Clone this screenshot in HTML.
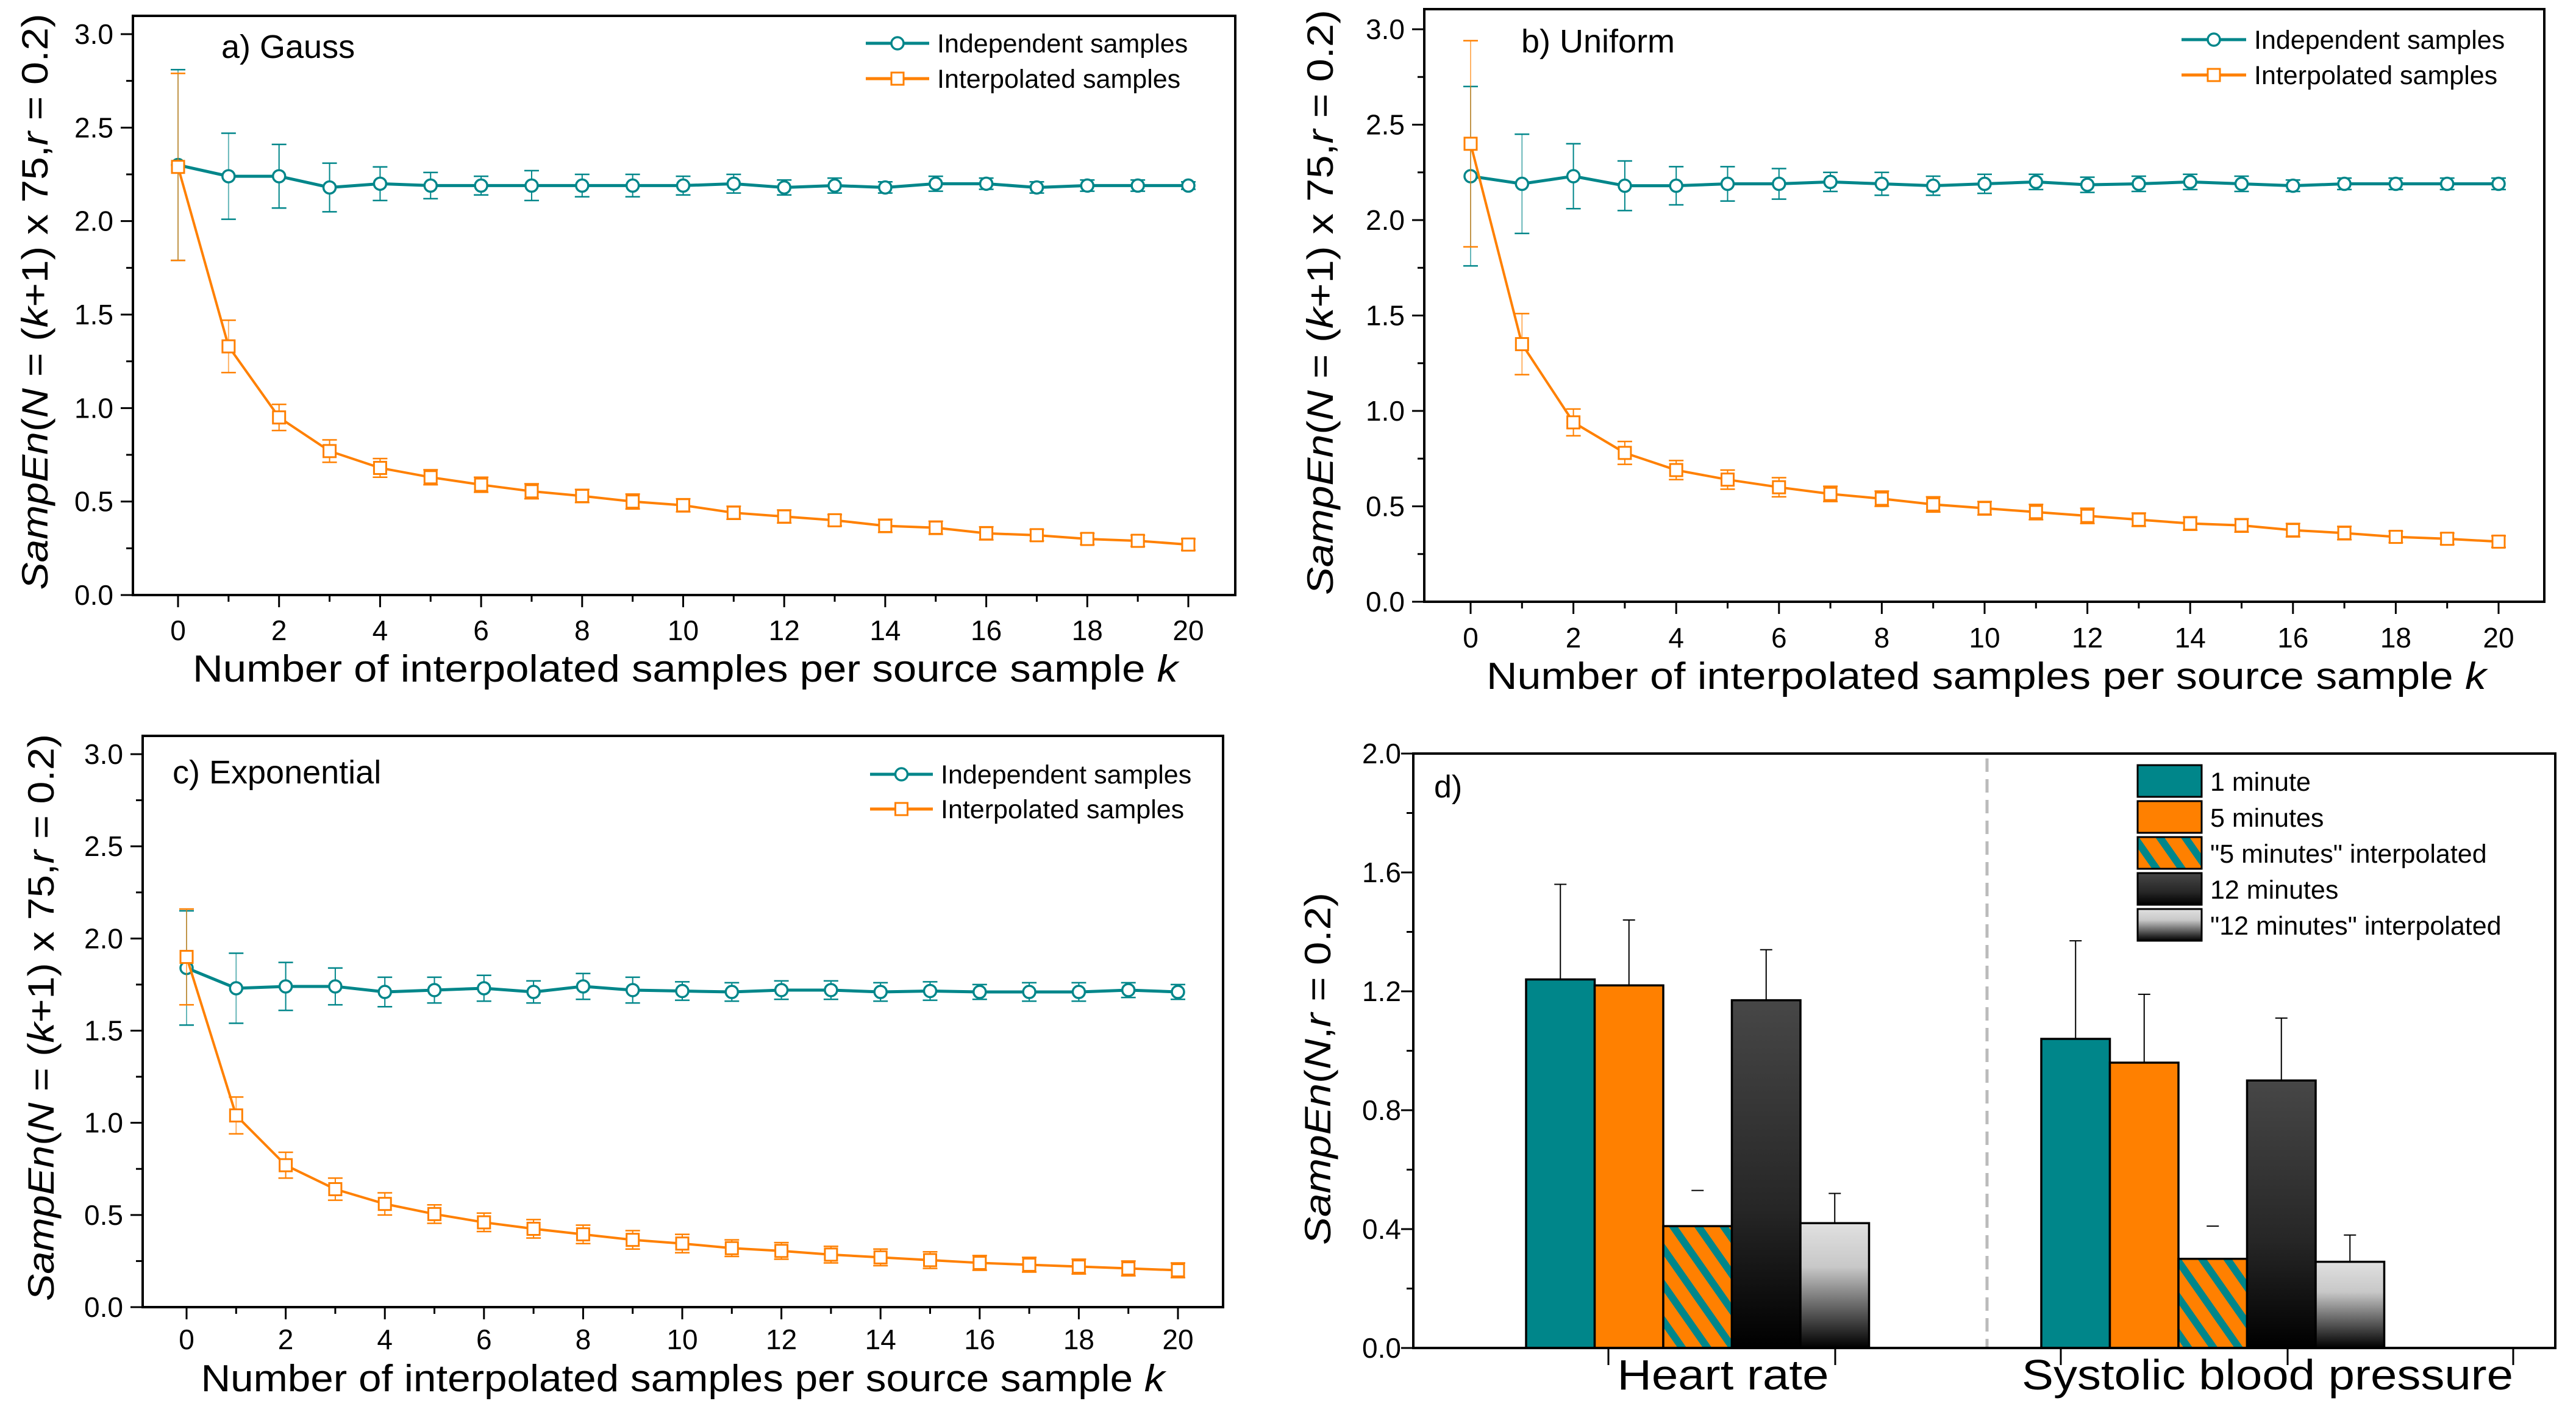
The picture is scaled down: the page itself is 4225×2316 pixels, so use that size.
<!DOCTYPE html>
<html><head><meta charset="utf-8"><style>
html,body{margin:0;padding:0;background:#fff;}
svg{display:block;font-family:"Liberation Sans",Arial,sans-serif;}
</style></head><body>
<svg id="fig" width="4225" height="2316" viewBox="0 0 4225 2316" xmlns="http://www.w3.org/2000/svg">
<defs>
<pattern id="hatch" patternUnits="userSpaceOnUse" width="34" height="34" patternTransform="rotate(-35)">
<rect width="34" height="34" fill="#ff8000"/><rect width="12" height="34" fill="#00868a"/>
</pattern>
<linearGradient id="gDark" x1="0" y1="0" x2="0" y2="1"><stop offset="0" stop-color="#474747"/><stop offset="0.6" stop-color="#262626"/><stop offset="1" stop-color="#000"/></linearGradient>
<linearGradient id="gLight" x1="0" y1="0" x2="0" y2="1"><stop offset="0" stop-color="#e0e0e0"/><stop offset="0.35" stop-color="#c8c8c8"/><stop offset="1" stop-color="#000"/></linearGradient>
</defs>
</svg>
<script>
const ks = [0,1,2,3,4,5,6,7,8,9,10,11,12,13,14,15,16,17,18,19,20];
const xTickLabels = ["0","2","4","6","8","10","12","14","16","18","20"];
const yTickLabelsLine = ["0.0","0.5","1.0","1.5","2.0","2.5","3.0"];
const gaussIndep = [2.30,2.24,2.24,2.18,2.20,2.19,2.19,2.19,2.19,2.19,2.19,2.20,2.18,2.19,2.18,2.20,2.20,2.18,2.19,2.19,2.19];
const gaussIndepErr = [0.51,0.23,0.17,0.13,0.09,0.07,0.05,0.08,0.06,0.06,0.05,0.05,0.04,0.04,0.03,0.04,0.03,0.03,0.03,0.03,0.02];
const gaussInterp = [2.29,1.33,0.95,0.77,0.68,0.63,0.59,0.555,0.53,0.50,0.48,0.44,0.42,0.40,0.37,0.36,0.33,0.32,0.30,0.29,0.27];
const gaussInterpErr = [0.5,0.14,0.07,0.06,0.05,0.04,0.04,0.04,0.035,0.04,0.035,0.035,0.035,0.03,0.035,0.035,0.035,0.03,0.03,0.03,0.03];
const unifIndep = [2.23,2.19,2.23,2.18,2.18,2.19,2.19,2.20,2.19,2.18,2.19,2.20,2.185,2.19,2.20,2.19,2.18,2.19,2.19,2.19,2.19];
const unifIndepErr = [0.47,0.26,0.17,0.13,0.10,0.09,0.08,0.05,0.06,0.05,0.05,0.04,0.04,0.04,0.04,0.04,0.03,0.03,0.03,0.03,0.03];
const unifInterp = [2.40,1.35,0.94,0.78,0.69,0.64,0.60,0.565,0.54,0.51,0.49,0.47,0.45,0.43,0.41,0.40,0.375,0.36,0.34,0.33,0.315];
const unifInterpErr = [0.54,0.16,0.07,0.06,0.05,0.05,0.05,0.04,0.04,0.04,0.035,0.04,0.04,0.035,0.035,0.035,0.035,0.035,0.03,0.03,0.03];
const expIndep = [1.84,1.73,1.74,1.74,1.71,1.72,1.73,1.71,1.74,1.72,1.715,1.71,1.72,1.72,1.71,1.715,1.71,1.71,1.71,1.72,1.71];
const expIndepErr = [0.31,0.19,0.13,0.10,0.08,0.07,0.07,0.06,0.07,0.07,0.05,0.05,0.05,0.05,0.05,0.05,0.04,0.05,0.05,0.04,0.04];
const expInterp = [1.90,1.04,0.77,0.64,0.56,0.505,0.46,0.425,0.395,0.365,0.345,0.32,0.305,0.285,0.27,0.255,0.24,0.23,0.22,0.21,0.20];
const expInterpErr = [0.26,0.10,0.07,0.06,0.06,0.05,0.05,0.05,0.05,0.05,0.05,0.045,0.045,0.045,0.045,0.045,0.04,0.04,0.04,0.04,0.04];
const barCategories = ["Heart rate","Systolic blood pressure"];
const barSeriesNames = ["1 minute","5 minutes","\"5 minutes\" interpolated","12 minutes","\"12 minutes\" interpolated"];
const hrValues = [1.24,1.22,0.41,1.17,0.42];
const hrErr = [0.32,0.22,0.12,0.17,0.10];
const sbpValues = [1.04,0.96,0.30,0.90,0.29];
const sbpErr = [0.33,0.23,0.11,0.21,0.09];
const yTickLabelsBar = ["0.0","0.4","0.8","1.2","1.6","2.0"];

const NS="http://www.w3.org/2000/svg";
const svg=document.getElementById('fig');
const TEAL="#00868a", ORANGE="#ff8000";
function mk(tag,attrs,parent){const e=document.createElementNS(NS,tag);for(const k in attrs)e.setAttribute(k,attrs[k]);(parent||svg).appendChild(e);return e;}

function ylabel(g,x,cy,len,parts,size){
  const t=mk('text',{x:0,y:0,'font-size':size,'text-anchor':'middle','dominant-baseline':'central',transform:`translate(${x},${cy}) rotate(-90)`,textLength:len,lengthAdjust:'spacingAndGlyphs'},g);
  
  
  parts.forEach(p=>{const s=mk('tspan',p[1]?{'font-style':'italic'}:{},t);s.textContent=p[0];});
}

function linePanel(c){
  const g=mk('g',{});
  
  
  const X=v=>c.x0+(c.x20-c.x0)*v/20, Y=v=>c.y0+(c.y3-c.y0)*v/3;
  const fr=mk('rect',{x:c.L,y:c.T,width:c.R-c.L,height:c.B-c.T,fill:'none',stroke:'#000','stroke-width':4},g);
  
  
  // y ticks
  for(let i=0;i<=12;i++){const v=i*0.25,y=Y(v);const maj=i%2==0;
    mk('line',{x1:c.L,x2:c.L-(maj?20:11),y1:y,y2:y,stroke:'#000','stroke-width':3},g);}
  yTickLabelsLine.forEach((lab,i)=>{const t=mk('text',{x:c.L-32,y:Y(parseFloat(lab))+16,'font-size':46,'text-anchor':'end'},g);
    
    
    t.textContent=lab;});
  ks.forEach(k=>{mk('line',{x1:X(k),x2:X(k),y1:c.B,y2:c.B+(k%2==0?20:11),stroke:'#000','stroke-width':3},g);});
  xTickLabels.forEach(lab=>{const t=mk('text',{x:X(parseFloat(lab)),y:c.tickY,'font-size':46,'text-anchor':'middle'},g);
    
    
    t.textContent=lab;});
  const xl=mk('text',{x:c.xlX,y:c.xlY,'font-size':62,'text-anchor':'middle',textLength:c.xlLen,lengthAdjust:'spacingAndGlyphs'},g);
  
  
  const s1=mk('tspan',{},xl);s1.textContent="Number of interpolated samples per source sample  ";
  const s2=mk('tspan',{'font-style':'italic'},xl);s2.textContent="k";
  ylabel(g,c.ylX,c.ylY,c.ylLen,[["SampEn",1],["(",0],["N",1],[" = (",0],["k",1],["+1) x 75,",0],["r",1],[" = 0.2)",0]],60);
  const ti=mk('text',{x:c.tiX,y:c.tiY,'font-size':54},g);
  
  
  ti.textContent=c.title;
  // series
  const series=[{v:c.ind,e:c.indE,col:TEAL,m:'circle',n:'independent-samples'},{v:c.int,e:c.intE,col:ORANGE,m:'square',n:'interpolated-samples'}];
  series.forEach(s=>{
    const sg=mk('g',{},g);
    
    
    s.v.forEach((v,i)=>{const x=X(ks[i]);const e=s.e[i];
      mk('line',{x1:x,x2:x,y1:Y(v-e),y2:Y(v+e),stroke:s.col,'stroke-width':2,opacity:i<2?0.6:1},sg);
      mk('line',{x1:x-12,x2:x+12,y1:Y(v-e),y2:Y(v-e),stroke:s.col,'stroke-width':2.5},sg);
      mk('line',{x1:x-12,x2:x+12,y1:Y(v+e),y2:Y(v+e),stroke:s.col,'stroke-width':2.5},sg);});
    const pl=mk('polyline',{points:s.v.map((v,i)=>X(ks[i])+','+Y(v)).join(' '),fill:'none',stroke:s.col,'stroke-width':s.m=='circle'?5:4},sg);
    
    
    s.v.forEach((v,i)=>{const x=X(ks[i]),y=Y(v);let p;
      if(s.m=='circle')p=mk('circle',{cx:x,cy:y,r:10,fill:'#fff',stroke:s.col,'stroke-width':3.5},sg);
      else p=mk('rect',{x:x-10,y:y-10,width:20,height:20,fill:'#fff',stroke:s.col,'stroke-width':3},sg);
      
      });
  });
  // legend
  const lg=mk('g',{},g);
  
  
  [[TEAL,'circle','Independent samples',c.lgY1],[ORANGE,'square','Interpolated samples',c.lgY2]].forEach(r=>{
    const eg=mk('g',{},lg);
    
    
    mk('line',{x1:c.lgX1,x2:c.lgX2,y1:r[3],y2:r[3],stroke:r[0],'stroke-width':5},eg);
    const cx=(c.lgX1+c.lgX2)/2;
    if(r[1]=='circle')mk('circle',{cx:cx,cy:r[3],r:10,fill:'#fff',stroke:r[0],'stroke-width':3.5},eg);
    else mk('rect',{x:cx-10,y:r[3]-10,width:20,height:20,fill:'#fff',stroke:r[0],'stroke-width':3},eg);
    const t=mk('text',{x:c.lgX2+13,y:r[3]+15,'font-size':43},eg);t.textContent=r[2];
  });
}

linePanel({name:'panel-a-gauss',L:218,R:2026,T:26,B:976,x0:292,x20:1949,y0:976,y3:56,tickY:1050,xlX:1124,xlY:1118,xlLen:1616,ylX:57,ylY:495,ylLen:945,tiX:363,tiY:95,title:'a) Gauss',ind:gaussIndep,indE:gaussIndepErr,int:gaussInterp,intE:gaussInterpErr,lgX1:1420,lgX2:1524,lgY1:71,lgY2:129});
linePanel({name:'panel-b-uniform',L:2336,R:4173,T:15,B:987,x0:2412,x20:4098,y0:987,y3:48,tickY:1062,xlX:3258,xlY:1130,xlLen:1640,ylX:2165,ylY:496,ylLen:960,tiX:2495,tiY:86,title:'b) Uniform',ind:unifIndep,indE:unifIndepErr,int:unifInterp,intE:unifInterpErr,lgX1:3578,lgX2:3684,lgY1:65,lgY2:123});
linePanel({name:'panel-c-exponential',L:234,R:2006,T:1207,B:2144,x0:306,x20:1932,y0:2144,y3:1237,tickY:2213,xlX:1120,xlY:2282,xlLen:1581,ylX:67,ylY:1669,ylLen:930,tiX:283,tiY:1285,title:'c) Exponential',ind:expIndep,indE:expIndepErr,int:expInterp,intE:expInterpErr,lgX1:1427,lgX2:1530,lgY1:1270,lgY2:1327});

// Panel d
(function(){
  const g=mk('g',{});
  
  
  const L=2318,R=4191,T=1236,B=2211;
  const Y=v=>B-(B-T)*v/2.0;
  const fills=['#00868a','#ff8000','url(#hatch)','url(#gDark)','url(#gLight)'];
  const groupStart=[2503,3348], bw=112.5;
  mk('line',{x1:3259,x2:3259,y1:T+8,y2:B,stroke:'#bbb','stroke-width':5,'stroke-dasharray':'22,12'},g);
  [hrValues,sbpValues].forEach((vals,gi)=>{
    const errs=gi==0?hrErr:sbpErr;
    vals.forEach((v,i)=>{const x=groupStart[gi]+i*bw;
      const r=mk('rect',{x:x,y:Y(v),width:bw,height:B-Y(v),fill:fills[i],stroke:'#000','stroke-width':3.5},g);
      
      
      const cx=x+bw/2,top=Y(v+errs[i]);
      if(i!=2)mk('line',{x1:cx,x2:cx,y1:Y(v),y2:top,stroke:'#000','stroke-width':2},g);
      mk('line',{x1:cx-10,x2:cx+10,y1:top,y2:top,stroke:'#000','stroke-width':2},g);
    });
  });
  mk('rect',{x:L,y:T,width:R-L,height:B-T,fill:'none',stroke:'#000','stroke-width':4},g);
  for(let i=0;i<=10;i++){const y=Y(i*0.2);mk('line',{x1:L,x2:L-(i%2==0?20:11),y1:y,y2:y,stroke:'#000','stroke-width':3},g);}
  yTickLabelsBar.forEach(lab=>{const t=mk('text',{x:L-20,y:Y(parseFloat(lab))+16,'font-size':46,'text-anchor':'end'},g);
    
    
    t.textContent=lab;});
  [2638,3010,3380,3752,4122].forEach(x=>mk('line',{x1:x,x2:x,y1:B,y2:B+28,stroke:'#000','stroke-width':3},g));
  const catX=[2826,3719],catLen=[347,806];
  barCategories.forEach((c,i)=>{const t=mk('text',{x:catX[i],y:2279,'font-size':70,'text-anchor':'middle',textLength:catLen[i],lengthAdjust:'spacingAndGlyphs'},g);
    
    
    t.textContent=c;});
  ylabel(g,2161,1753,578,[["SampEn",1],["(",0],["N",1],[",",0],["r",1],[" = 0.2)",0]],60);
  const d=mk('text',{x:2352,y:1308,'font-size':52},g);
  
  
  d.textContent='d)';
  const lg=mk('g',{},g);
  
  
  barSeriesNames.forEach((n,i)=>{const y=1255+i*59;
    const eg=mk('g',{},lg);
    
    
    mk('rect',{x:3506,y:y,width:105,height:52,fill:fills[i],stroke:'#000','stroke-width':3},eg);
    const t=mk('text',{x:3625,y:y+42,'font-size':43},eg);t.textContent=n;});
})();
</script>
</body></html>
